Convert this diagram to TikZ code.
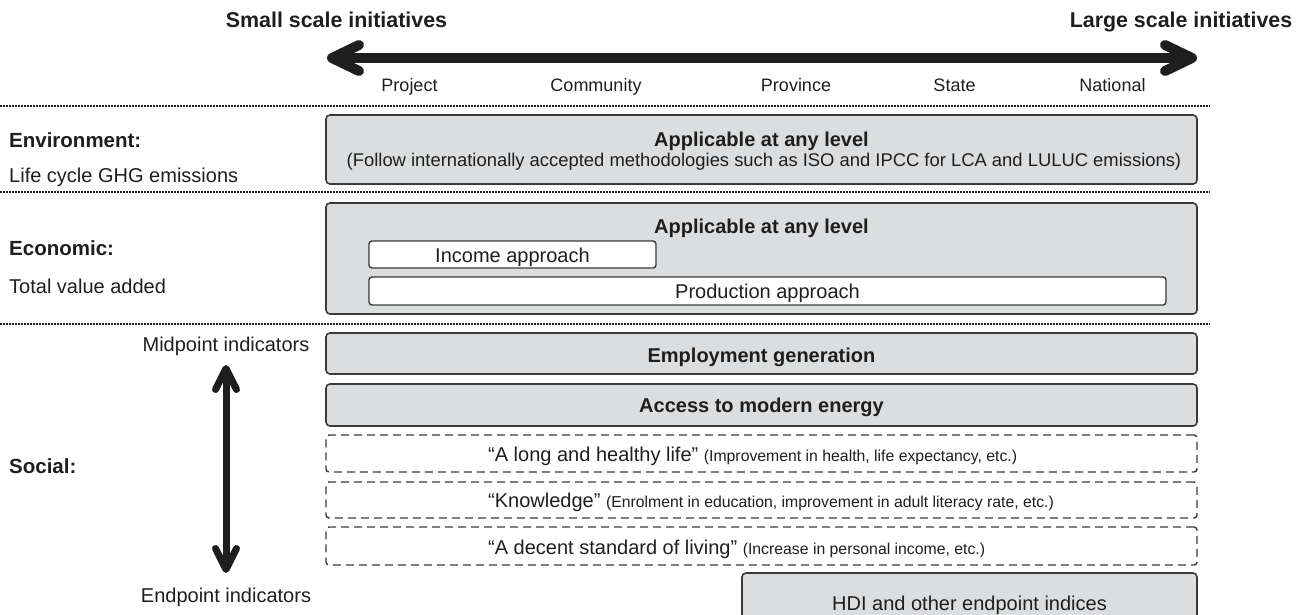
\documentclass[tikz,border=0pt]{standalone}
\usepackage{fontspec}
\setmainfont{Liberation Sans}
\usetikzlibrary{arrows.meta}
\definecolor{boxfill}{HTML}{DCDDDF}
\definecolor{boxline}{HTML}{3A3A3A}
\definecolor{ink}{HTML}{1E1E1E}
\newcommand{\smallnote}[1]{{\fontsize{15.8}{20}\selectfont #1}}
\begin{document}
\begin{tikzpicture}[x=1pt, y=-1pt, text=ink,
	txt/.style={font=\fontsize{20}{24}\selectfont, inner sep=0pt},
	head/.style={font=\fontsize{20.5}{24}\selectfont\bfseries, inner sep=0pt},
	level/.style={font=\fontsize{18}{22}\selectfont, inner sep=0pt, anchor=base},
	greybox/.style={draw=boxline, fill=boxfill, line width=1.6pt, rounded corners=4pt, inner sep=0pt},
	whitebox/.style={draw=boxline, fill=white, line width=1.4pt, rounded corners=3pt, inner sep=0pt},
	dashbox/.style={draw=boxline, line width=1.4pt, dash pattern=on 8pt off 5pt, rounded corners=3pt, inner sep=0pt},
	divider/.style={draw=ink, line width=1.5pt, dash pattern=on 1.5pt off 1.5pt}]
   \clip (0,0) rectangle (1304,614);
   \node [head, font=\fontsize{21.4}{24}\selectfont\bfseries, anchor=base] (small) at (336.5,27) {Small scale initiatives};
   \node [head, font=\fontsize{21.4}{24}\selectfont\bfseries, anchor=base] (large) at (1181,27) {Large scale initiatives};
   \coordinate (smallend) at (327,58);
   \coordinate (largeend) at (1197,58);
   \draw [ink, line width=10pt, {Straight Barb[length=27pt, width=26pt, round]}-{Straight Barb[length=27pt, width=26pt, round]}] (smallend) -- (largeend);
   \node [level] (project) at (409.5,91) {Project};
   \node [level] (community) at (596,91) {Community};
   \node [level] (province) at (796,91) {Province};
   \node [level] (state) at (954.5,91) {State};
   \node [level] (national) at (1112.5,91) {National};
   \draw [divider] (0,106) -- (1210,106);
   \draw [divider] (0,192) -- (1210,192);
   \draw [divider] (0,324) -- (1210,324);
   \node [head, anchor=base west] (env) at (9,147) {Environment:};
   \node [txt, anchor=base west] (ghg) at (9,182) {Life cycle GHG emissions};
   \node [greybox, minimum width=871pt, minimum height=69pt] (envbox) at (761.5,149.5) {};
   \node [head, font=\fontsize{20}{24}\selectfont\bfseries, anchor=base] (envtitle) at (761.5,146) {Applicable at any level};
   \node [txt, font=\fontsize{18.4}{22}\selectfont, anchor=base] (envnote) at (764,166) {(Follow internationally accepted methodologies such as ISO and IPCC for LCA and LULUC emissions)};
   \node [head, anchor=base west] (eco) at (9,255) {Economic:};
   \node [txt, anchor=base west] (tva) at (9,293) {Total value added};
   \node [greybox, minimum width=871pt, minimum height=111pt] (ecobox) at (761.5,258.5) {};
   \node [head, font=\fontsize{20}{24}\selectfont\bfseries, anchor=base] (ecotitle) at (761.5,233) {Applicable at any level};
   \node [whitebox, minimum width=287pt, minimum height=27pt] (incomebox) at (512.5,254.5) {};
   \node [txt, anchor=base] (income) at (512.5,262) {Income approach};
   \node [whitebox, minimum width=797pt, minimum height=28pt] (prodbox) at (767.5,291) {};
   \node [txt, anchor=base] (prod) at (767.5,298) {Production approach};
   \node [txt, anchor=base] (mid) at (226,351) {Midpoint indicators};
   \node [txt, anchor=base] (end) at (226,602) {Endpoint indicators};
   \node [head, anchor=base west] (social) at (9,473) {Social:};
   \coordinate (midend) at (226,365);
   \coordinate (endend) at (226,573);
   \draw [ink, line width=7pt, {Straight Barb[length=21pt, width=21pt, round]}-{Straight Barb[length=21pt, width=21pt, round]}] (midend) -- (endend);
   \node [greybox, minimum width=871pt, minimum height=41pt] (empbox) at (761.5,353.5) {};
   \node [head, font=\fontsize{20}{24}\selectfont\bfseries, anchor=base] (emp) at (761.5,362) {Employment generation};
   \node [greybox, minimum width=871pt, minimum height=42pt] (accbox) at (761.5,405) {};
   \node [head, font=\fontsize{20}{24}\selectfont\bfseries, anchor=base] (acc) at (761.5,412) {Access to modern energy};
   \node [dashbox, minimum width=871pt, minimum height=37pt] (healthbox) at (761.5,453.5) {};
   \node [txt, anchor=base west] (health) at (488,461) {“A long and healthy life” \smallnote{(Improvement in health, life expectancy, etc.)}};
   \node [dashbox, minimum width=871pt, minimum height=36pt] (knowbox) at (761.5,500) {};
   \node [txt, anchor=base west] (know) at (488,507.5) {“Knowledge” \smallnote{(Enrolment in education, improvement in adult literacy rate, etc.)}};
   \node [dashbox, minimum width=871pt, minimum height=38pt] (livingbox) at (761.5,546) {};
   \node [txt, anchor=base west] (living) at (488,554) {“A decent standard of living” \smallnote{(Increase in personal income, etc.)}};
   \node [greybox, minimum width=455pt, minimum height=60pt] (hdibox) at (969.5,603) {};
   \node [txt, anchor=base] (hdi) at (969.5,610) {HDI and other endpoint indices};
\end{tikzpicture}
\end{document}
